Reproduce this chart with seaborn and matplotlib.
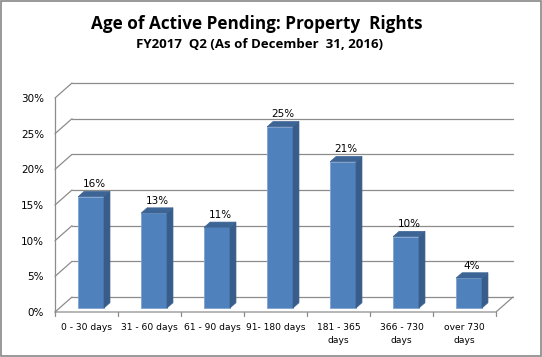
import matplotlib
matplotlib.use('Agg')
import matplotlib.pyplot as plt
import numpy as np
import pandas as pd
import seaborn as sns
from matplotlib.patches import Polygon, Rectangle

categories = ['0 - 30 days', '31 - 60 days', '61 - 90 days', '91- 180 days',
              '181 - 365\ndays', '366 - 730\ndays', 'over 730\ndays']
values = [15.6, 13.3, 11.3, 25.4, 20.5, 10.0, 4.2]
labels = ['16%', '13%', '11%', '25%', '21%', '10%', '4%']
yticks = [0, 5, 10, 15, 20, 25, 30]

# fake 3d: depth offset in data units
DX, DY = 0.27, 2.1
F0, F1 = 0.27, 0.62
FRONT = '#4f81bd'
SIDE = '#385d8a'
TOP = '#3c6494'
GRID = '#8c8c8c'


def main():
    sns.set_style('white')
    fig = plt.figure(figsize=(5.42, 3.57), dpi=100)
    W, H = 542, 357
    left, right = 55, 513
    bottom, top = 312, 83
    ax = fig.add_axes([left / W, 1 - bottom / H, (right - left) / W, (bottom - top) / H])

    df = pd.DataFrame({'cat': categories, 'val': values})
    sns.barplot(data=df, x='cat', y='val', color=FRONT, width=0.41, saturation=1,
                edgecolor='#7fa3d1', linewidth=0.6, ax=ax, zorder=3)

    ax.set_xlim(-0.5, 6.5 + DX)
    ax.set_ylim(0, 30 + DY)
    for s in ax.spines.values():
        s.set_visible(False)

    # back wall gridlines and left wall
    for v in yticks:
        ax.plot([-0.5 + DX, 6.5 + DX], [v + DY, v + DY], color=GRID, lw=0.9, zorder=1, clip_on=False)
        ax.plot([-0.5, -0.5 + DX], [v, v + DY], color=GRID, lw=0.9, zorder=1, clip_on=False)
    ax.plot([-0.5, -0.5], [0, 30], color=GRID, lw=0.9, clip_on=False)
    # floor
    ax.plot([-0.5, 6.5, 6.5 + DX], [0, 0, DY], color=GRID, lw=0.9, clip_on=False)
    for k in range(8):
        ax.plot([k - 0.5, k - 0.5], [0, -0.6], color=GRID, lw=0.9, clip_on=False)

    # shift front faces into depth and add side/top faces
    for p, v, lab in zip(ax.patches, values, labels):
        p.set_x(p.get_x() + F0 * DX)
        p.set_y(F0 * DY)
        x0 = p.get_x()
        x1 = x0 + p.get_width()
        side = [(x1, F0 * DY), (x1 + (F1 - F0) * DX, F1 * DY),
                (x1 + (F1 - F0) * DX, v + F1 * DY), (x1, v + F0 * DY)]
        topf = [(x0, v + F0 * DY), (x1, v + F0 * DY),
                (x1 + (F1 - F0) * DX, v + F1 * DY), (x0 + (F1 - F0) * DX, v + F1 * DY)]
        ax.add_patch(Polygon(side, closed=True, facecolor=SIDE, edgecolor=SIDE, lw=0.5, zorder=3))
        ax.add_patch(Polygon(topf, closed=True, facecolor=TOP, edgecolor=TOP, lw=0.5, zorder=3))
        cx = (x0 + x1) / 2 + (F1 - F0) * DX / 2
        ax.text(cx, v + F1 * DY + 0.3, lab, ha='center', va='bottom', fontsize=7.5,
                family='DejaVu Sans', color='black')

    ax.set_yticks(yticks)
    ax.set_yticklabels([f'{v}%' for v in yticks], fontsize=7.5, color='black')
    ax.set_xticks(range(len(categories)))
    ax.set_xticklabels(categories, fontsize=6.6, linespacing=1.6, color='black')
    ax.tick_params(axis='both', length=0, pad=8)
    ax.tick_params(axis='x', pad=8)
    ax.set_xlabel('')
    ax.set_ylabel('')

    fig.text(257 / W, 1 - 24 / H, 'Age of Active Pending: Property  Rights', ha='center', va='center',
             fontsize=12.3, fontweight='bold', family='Open Sans', color='black')
    fig.text(259 / W, 1 - 44 / H, 'FY2017  Q2 (As of December  31, 2016)', ha='center', va='center',
             fontsize=9.5, fontweight='bold', family='Open Sans', color='black')

    fig.patches.append(Rectangle((0.001, 0.002), 0.997, 0.995, transform=fig.transFigure,
                                 fill=False, edgecolor='#888888', lw=1.2))
    fig.savefig('out.png', dpi=100)


if __name__ == '__main__':
    main()
